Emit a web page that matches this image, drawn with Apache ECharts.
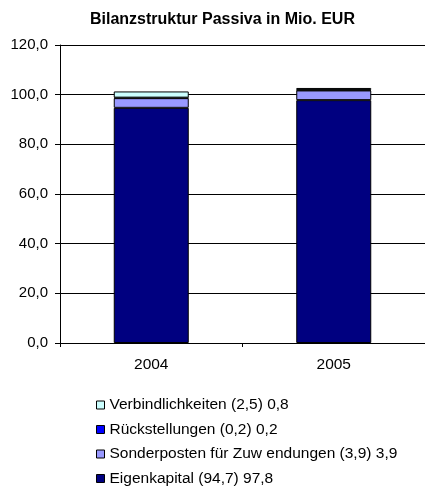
<!DOCTYPE html>
<html><head><meta charset="utf-8">
<script src="https://cdn.jsdelivr.net/npm/echarts@6/dist/echarts.min.js"></script>
<style>html,body{margin:0;padding:0;background:#fff}#c{width:425px;height:494px}</style>
</head><body><div id="c"></div>
<script>
const categories = ['2004', '2005'];
const eigenkapital = [94.7, 97.8];
const sonderposten = [3.9, 3.9];
const rueckstellungen = [0.2, 0.2];
const verbindlichkeiten = [2.5, 0.8];
const seriesNames = ['Eigenkapital (94,7) 97,8', 'Sonderposten für Zuw endungen (3,9) 3,9', 'Rückstellungen (0,2) 0,2', 'Verbindlichkeiten (2,5) 0,8'];
const seriesData = [eigenkapital, sonderposten, rueckstellungen, verbindlichkeiten];
const colors = ['#000080', '#9999FF', '#0000FF', '#CCFFFF'];
const font = 'Liberation Sans, Arial, sans-serif';
const chart = echarts.init(document.getElementById('c'));
chart.setOption({
  animation: false,
  title: { text: 'Bilanzstruktur Passiva in Mio. EUR', left: 90, top: 12, padding: 0,
    textStyle: { fontFamily: font, fontSize: 16, fontWeight: 'bold', color: '#000' } },
  grid: { left: 60, right: 0, top: 45, bottom: 151 },
  legend: { orient: 'vertical', left: 96, top: 397, height: 97, padding: 0, itemGap: 8.5, itemWidth: 8, itemHeight: 8,
    icon: 'rect', data: seriesNames.slice().reverse(),
    itemStyle: { borderColor: '#000', borderWidth: 1 },
    textStyle: { fontFamily: font, fontSize: 15.5, color: '#000' } },
  xAxis: { type: 'category', data: categories,
    axisLine: { lineStyle: { color: '#000' } },
    axisTick: { show: true, lineStyle: { color: '#000' }, length: 4 },
    axisLabel: { fontFamily: font, fontSize: 15.5, color: '#000', margin: 14 } },
  yAxis: { type: 'value', min: 0, max: 120, interval: 20,
    axisLine: { show: true, lineStyle: { color: '#000' } },
    axisTick: { show: true, lineStyle: { color: '#000' }, length: 5 },
    splitLine: { lineStyle: { color: '#000' } },
    axisLabel: { fontFamily: font, fontSize: 15, color: '#000', margin: 12,
      formatter: v => v.toFixed(1).replace('.', ',') } },
  series: seriesNames.map((n, i) => ({
    name: n, type: 'bar', stack: 'a', data: seriesData[i], barWidth: 75,
    itemStyle: { color: colors[i], borderColor: '#000', borderWidth: 1 }
  }))
});
</script></body></html>
